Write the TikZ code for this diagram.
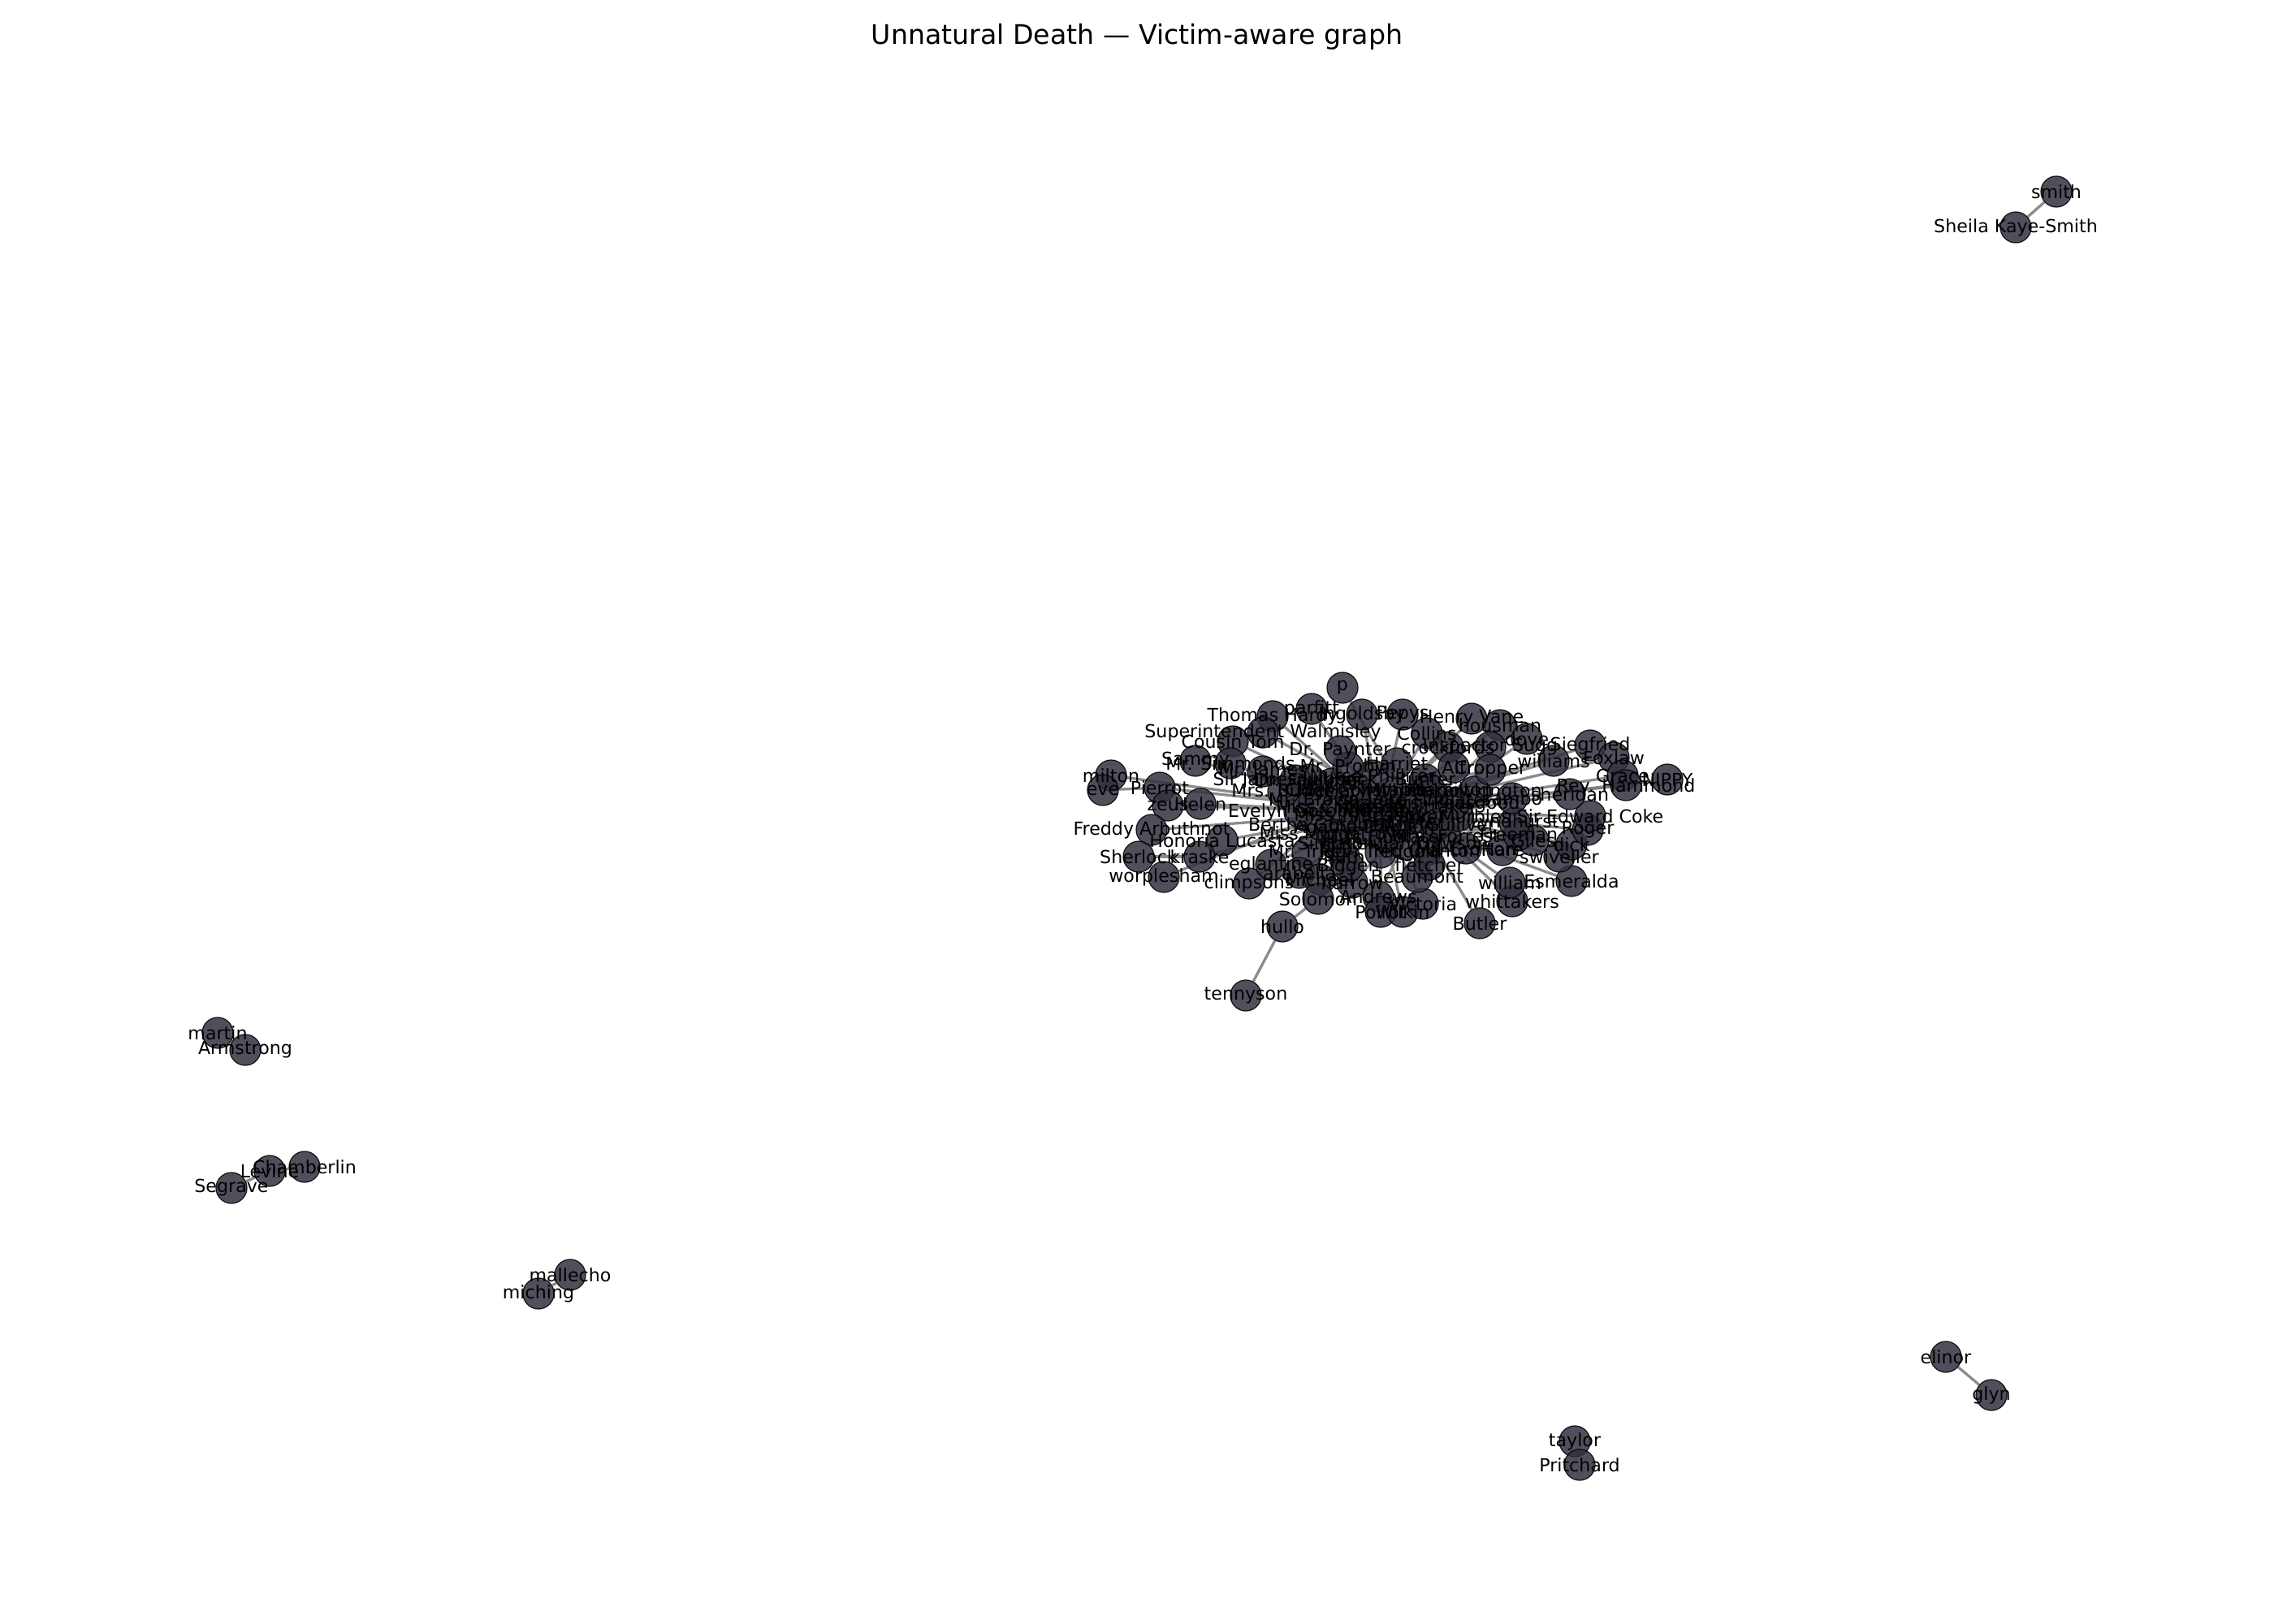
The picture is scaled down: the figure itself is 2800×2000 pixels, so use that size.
\documentclass[tikz,border=0pt]{standalone}
\usepackage{fontspec}
\setmainfont{DejaVu Sans}
\pgfdeclarelayer{edges}
\pgfdeclarelayer{labels}
\pgfsetlayers{edges,main,labels}
\definecolor{nodefill}{RGB}{49,49,63}
\definecolor{edgegray}{RGB}{128,128,128}
\tikzset{
  gnode/.style={circle,minimum size=0.483cm,inner sep=0pt,fill=nodefill,fill opacity=0.85,draw=black,draw opacity=0.85,line width=0.45pt},
  glabel/.style={inner sep=0pt,font=\fontsize{8}{9.6}\selectfont,text=black},
  gedge/.style={draw=edgegray,line width=1.2pt,draw opacity=0.9},
  gtitle/.style={inner sep=0pt,font=\fontsize{12}{14}\selectfont}
}
\newcommand\gn[3]{\node[gnode] (#1) at (#2) {};\begin{pgfonlayer}{labels}\node[glabel] (#1-t) at (#2) {#3};\end{pgfonlayer}}
\begin{document}
\begin{tikzpicture}[x=0.0127cm,y=-0.0127cm]
\useasboundingbox (0,0) rectangle (2800,2000);
\node[gtitle] (title) at (1400,45) {Unnatural Death — Victim-aware graph};
% isolated components
\gn{smith}{2532,236}{smith}
\gn{sheila}{2482,280}{Sheila Kaye-Smith}
\gn{martin}{268,1272}{martin}
\gn{armstrong}{302,1293}{Armstrong}
\gn{chamberlin}{375,1437}{Chamberlin}
\gn{levine}{332,1442}{Levine}
\gn{segrave}{285,1463}{Segrave}
\gn{mallecho}{702,1570}{mallecho}
\gn{miching}{663,1593}{miching}
\gn{elinor}{2396,1671}{elinor}
\gn{glyn}{2452,1718}{glyn}
\gn{taylor}{1939,1775}{taylor}
\gn{pritchard}{1945,1804}{Pritchard}
\gn{tennyson}{1534,1226}{tennyson}
\gn{hullo}{1579,1141}{hullo}
% dense core
\gn{wimsey}{1700,1000}{Wimsey}
\gn{climpson}{1650,995}{Miss Climpson}
\gn{parker}{1745,1005}{Parker}
\gn{whittaker}{1715,975}{Mary Whittaker}
\gn{dawson}{1680,1020}{Agatha Dawson}
\gn{findlater}{1760,985}{Vera Findlater}
\gn{bertha}{1625,1015}{Bertha Gotobed}
\gn{evelyn}{1600,1000}{Evelyn Gotobed}
\gn{forrest}{1780,1030}{Mrs. Forrest}
\gn{carr}{1640,965}{Dr. Carr}
\gn{philliter}{1690,955}{Nurse Philliter}
\gn{hallelujah}{1730,1040}{Hallelujah Dawson}
\gn{murbles}{1795,1005}{Mr. Murbles}
\gn{trigg}{1610,1050}{Mr. Trigg}
\gn{probyn}{1660,945}{Mr. Probyn}
\gn{bunter}{1755,960}{Bunter}
\gn{towkington}{1815,975}{Mr. Towkington}
\gn{budge}{1580,975}{Mrs. Budge}
\gn{tredgold}{1700,1050}{Rev. Tredgold}
\gn{crofton}{1805,1045}{Mr. Crofton}
\gn{lordpeter}{1722,1012}{Lord Peter}
\gn{charles}{1688,988}{Charles}
\gn{murgatroyd}{1642,1028}{Miss Murgatroyd}
\gn{misswhit}{1737,993}{Miss Whittaker}
\gn{constable}{1670,972}{Chief Constable}
\gn{gulliver}{1770,1015}{Mrs. Gulliver}
\gn{brown}{1618,985}{Mr. Brown}
\gn{peasgood}{1790,990}{Mrs. Peasgood}
\gn{missfind}{1705,1030}{Miss Findlater}
\gn{cranton}{1757,1047}{Mr. Cranton}
\gn{faulkner}{1612,960}{Dr. Faulkner}
\gn{timpson}{1668,1005}{Miss Timpson}
\gn{hamilton}{1760,972}{Mrs. Hamilton}
\gn{ruth}{1655,1055}{Ruth}
% readable outer ring of the cluster
\gn{p}{1653,847}{p}
\gn{parfitt}{1615,873}{parfitt}
\gn{hardy}{1567,882}{Thomas Hardy}
\gn{ingoldsby}{1677,880}{Ingoldsby}
\gn{walmisley}{1555,902}{Superintendent Walmisley}
\gn{cousin}{1518,913}{Cousin Tom}
\gn{paynter}{1650,925}{Dr. Paynter}
\gn{sammy}{1472,937}{Sammy}
\gn{simmonds}{1515,940}{Mr. Simmonds}
\gn{mrjames}{1555,950}{Mr. James}
\gn{lubbock}{1595,961}{Sir James Lubbock}
\gn{milton}{1368,955}{milton}
\gn{eve}{1358,973}{eve}
\gn{pierrot}{1428,970}{Pierrot}
\gn{zeus}{1438,992}{zeus}
\gn{helen}{1478,990}{Helen}
\gn{freddy}{1418,1022}{Freddy Arbuthnot}
\gn{honoria}{1505,1035}{Honoria Lucasta}
\gn{sherlock}{1402,1055}{Sherlock}
\gn{kraske}{1477,1055}{kraske}
\gn{worplesham}{1433,1080}{worplesham}
\gn{climpsons}{1538,1088}{climpsons}
\gn{eglantine}{1565,1065}{eglantine}
\gn{arabella}{1600,1075}{arabella}
\gn{michael}{1625,1083}{Michael}
\gn{harrow}{1665,1087}{harrow}
\gn{solomon}{1623,1107}{Solomon}
\gn{andrews}{1697,1104}{Andrews}
\gn{poirot}{1700,1123}{Poirot}
\gn{wilkin}{1727,1123}{Wilkin}
\gn{victoria}{1752,1113}{Victoria}
\gn{beaumont}{1745,1080}{Beaumont}
\gn{butler}{1822,1137}{Butler}
\gn{whittakers}{1862,1110}{whittakers}
\gn{william}{1859,1087}{william}
\gn{esmeralda}{1935,1085}{Esmeralda}
\gn{swiveller}{1920,1055}{swiveller}
\gn{hare}{1850,1047}{Hare}
\gn{dick}{1935,1040}{dick}
\gn{roger}{1955,1022}{Roger}
\gn{giles}{1888,1035}{Giles}
\gn{freeman}{1870,1028}{Freeman}
\gn{lyndhurst}{1865,1013}{Lyndhurst}
\gn{coke}{1958,1005}{Sir Edward Coke}
\gn{sheridan}{1933,978}{sheridan}
\gn{sambo}{1862,983}{sambo}
\gn{pepys}{1727,880}{Pepys}
\gn{vane}{1812,885}{Henry Vane}
\gn{housman}{1847,893}{housman}
\gn{dove}{1880,910}{dove}
\gn{siegfried}{1958,918}{Siegfried}
\gn{williams}{1913,937}{williams}
\gn{foxlaw}{1987,933}{Foxlaw}
\gn{grace}{1998,955}{Grace}
\gn{nippy}{2053,960}{NIPPY}
\gn{hammond}{2002,967}{Rev. Hammond}
\gn{collins}{1757,903}{Collins}
\gn{crockfords}{1783,920}{crockfords}
\gn{sugg}{1835,920}{Inspector Sugg}
\gn{cropper}{1835,948}{Cropper}
\gn{harriet}{1720,940}{Harriet}
\gn{alf}{1790,945}{Alf}
\gn{fletcher}{1760,1065}{fletcher}
\gn{biggen}{1660,1067}{Biggen}
\gn{simpson}{1645,1040}{Simpson}
\begin{pgfonlayer}{edges}
\foreach \a/\b in {smith/sheila,martin/armstrong,levine/chamberlin,levine/segrave,mallecho/miching,elinor/glyn,taylor/pritchard,tennyson/hullo,hullo/solomon,
wimsey/climpson,wimsey/parker,wimsey/whittaker,wimsey/dawson,wimsey/findlater,wimsey/bertha,wimsey/evelyn,wimsey/forrest,wimsey/carr,wimsey/philliter,wimsey/hallelujah,wimsey/murbles,wimsey/trigg,wimsey/probyn,wimsey/bunter,wimsey/towkington,wimsey/tredgold,wimsey/crofton,
climpson/whittaker,climpson/findlater,climpson/budge,climpson/dawson,parker/whittaker,parker/bertha,parker/evelyn,parker/forrest,whittaker/dawson,whittaker/findlater,whittaker/carr,dawson/philliter,dawson/carr,dawson/hallelujah,bertha/evelyn,forrest/whittaker,murbles/dawson,trigg/whittaker,
lordpeter/parker,lordpeter/climpson,charles/parker,charles/wimsey,murgatroyd/climpson,murgatroyd/whittaker,misswhit/parker,misswhit/dawson,constable/parker,gulliver/wimsey,gulliver/whittaker,brown/wimsey,peasgood/climpson,missfind/wimsey,missfind/whittaker,cranton/parker,faulkner/wimsey,timpson/climpson,timpson/parker,hamilton/wimsey,ruth/whittaker,ruth/dawson,
p/parker,parfitt/wimsey,hardy/wimsey,ingoldsby/wimsey,walmisley/parker,cousin/wimsey,paynter/climpson,sammy/wimsey,simmonds/climpson,mrjames/wimsey,lubbock/parker,milton/eve,milton/wimsey,eve/pierrot,pierrot/wimsey,zeus/wimsey,helen/wimsey,freddy/wimsey,honoria/wimsey,sherlock/kraske,kraske/wimsey,worplesham/climpson,climpsons/climpson,eglantine/wimsey,arabella/wimsey,michael/wimsey,harrow/parker,solomon/wimsey,andrews/parker,poirot/wimsey,wilkin/wimsey,victoria/wimsey,beaumont/parker,butler/parker,whittakers/forrest,william/forrest,esmeralda/wimsey,swiveller/parker,hare/wimsey,dick/parker,roger/wimsey,giles/wimsey,freeman/parker,lyndhurst/wimsey,coke/wimsey,sheridan/parker,sambo/wimsey,pepys/wimsey,vane/wimsey,housman/wimsey,dove/parker,siegfried/wimsey,williams/wimsey,foxlaw/wimsey,grace/wimsey,nippy/wimsey,hammond/wimsey,collins/wimsey,crockfords/wimsey,sugg/parker,cropper/whittaker,harriet/wimsey,alf/wimsey,fletcher/parker,biggen/wimsey,simpson/climpson}
  \draw[gedge] (\a) -- (\b);
\end{pgfonlayer}
\end{tikzpicture}
\end{document}
